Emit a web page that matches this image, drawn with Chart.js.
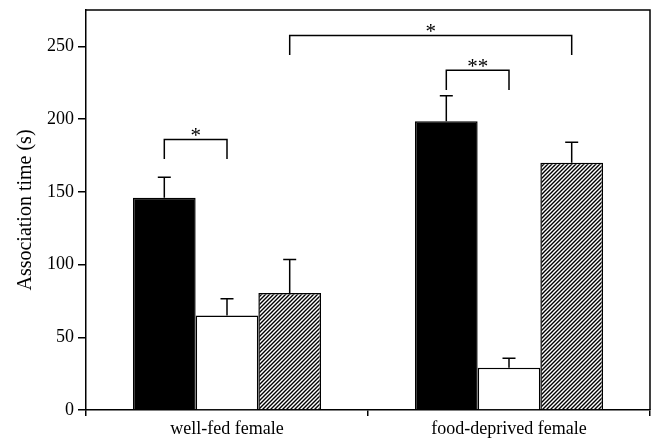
<!DOCTYPE html>
<html><head><meta charset="utf-8">
<script src="https://cdn.jsdelivr.net/npm/chart.js@4/dist/chart.umd.min.js"></script>
<style>html,body{margin:0;padding:0;background:#fff;}</style>
</head><body>
<canvas id="c" width="652" height="442"></canvas>
<script>
// ---- data ----
const categories = ['well-fed female', 'food-deprived female'];
const blackValues = [146, 198.5];
const blackErrors = [14, 17.5];
const whiteValues = [65, 29];
const whiteErrors = [11.5, 6.5];
const hatchValues = [80.5, 170];
const hatchErrors = [23, 14];
const yTicks = [0, 50, 100, 150, 200, 250];
const yMax = 275;
// significance brackets: [seriesIndex, categoryIndex] for each end
const bracketLeft = [[0, 0], [0, 1], [2, 0]];
const bracketRight = [[1, 0], [1, 1], [2, 1]];
const bracketTops = [186, 233.5, 257.5];
const bracketFeet = [172.5, 220, 244];
const bracketLabels = ['*', '**', '*'];

const FONT = 'Liberation Serif, Times New Roman, serif';

function hatchPattern() {
  const c = document.createElement('canvas');
  c.width = 4; c.height = 4;
  const g = c.getContext('2d');
  g.fillStyle = '#fff'; g.fillRect(0, 0, 4, 4);
  g.strokeStyle = '#000'; g.lineWidth = 1.4;
  g.beginPath();
  g.moveTo(-1, 5); g.lineTo(5, -1);
  g.moveTo(-1, 1); g.lineTo(1, -1);
  g.moveTo(3, 5); g.lineTo(5, 3);
  g.stroke();
  return g.createPattern(c, 'repeat');
}

const errorSets = [blackErrors, whiteErrors, hatchErrors];

const annot = {
  id: 'annot',
  afterDatasetsDraw(chart) {
    const ctx = chart.ctx, ys = chart.scales.y, a = chart.chartArea;
    ctx.save();
    ctx.strokeStyle = '#000';
    ctx.lineWidth = 1.5;
    // frame top and right
    ctx.beginPath();
    ctx.moveTo(a.left, a.top); ctx.lineTo(a.right, a.top); ctx.lineTo(a.right, a.bottom);
    ctx.stroke();
    // error bars
    errorSets.forEach((errs, i) => {
      const meta = chart.getDatasetMeta(i);
      meta.data.forEach((bar, j) => {
        const v = chart.data.datasets[i].data[j];
        const base = ys.getPixelForValue(v);
        const top = ys.getPixelForValue(v + errs[j]);
        ctx.beginPath();
        ctx.moveTo(bar.x, base); ctx.lineTo(bar.x, top);
        ctx.moveTo(bar.x - 6.5, top); ctx.lineTo(bar.x + 6.5, top);
        ctx.stroke();
      });
    });
    // brackets
    ctx.fillStyle = '#000';
    ctx.font = '21px ' + FONT;
    ctx.textAlign = 'center';
    ctx.textBaseline = 'alphabetic';
    bracketLabels.forEach((lab, k) => {
      const l = chart.getDatasetMeta(bracketLeft[k][0]).data[bracketLeft[k][1]].x;
      const r = chart.getDatasetMeta(bracketRight[k][0]).data[bracketRight[k][1]].x;
      const t = ys.getPixelForValue(bracketTops[k]);
      const f = ys.getPixelForValue(bracketFeet[k]);
      ctx.beginPath();
      ctx.moveTo(l, f); ctx.lineTo(l, t); ctx.lineTo(r, t); ctx.lineTo(r, f);
      ctx.stroke();
      ctx.fillText(lab, (l + r) / 2, t + 3);
    });
    ctx.restore();
  }
};

new Chart(document.getElementById('c'), {
  type: 'bar',
  data: {
    labels: categories,
    datasets: [
      { data: blackValues, backgroundColor: '#000', borderColor: '#000', borderWidth: 1.5 },
      { data: whiteValues, backgroundColor: '#fff', borderColor: '#000', borderWidth: 1.5 },
      { data: hatchValues, backgroundColor: hatchPattern(), borderColor: '#000', borderWidth: 1.5 }
    ]
  },
  options: {
    responsive: false,
    animation: false,
    devicePixelRatio: 1,
    categoryPercentage: 0.667,
    barPercentage: 1.0,
    layout: { padding: { top: 10, right: 2, left: 0, bottom: 0 } },
    plugins: { legend: { display: false }, tooltip: { enabled: false } },
    scales: {
      x: {
        grid: { display: true, drawOnChartArea: false, drawTicks: true, tickLength: 6, offset: true, color: '#000', lineWidth: 1.5 },
        border: { display: true, color: '#000', width: 1.5 },
        ticks: { color: '#000', font: { family: FONT, size: 18 }, padding: 2 },
        afterFit(s) { s.height = 32; s.paddingLeft = 0; s.paddingRight = 0; }
      },
      y: {
        min: 0, max: yMax,
        afterBuildTicks(s) { s.ticks = yTicks.map(v => ({ value: v })); },
        ticks: { color: '#000', font: { family: FONT, size: 18 }, padding: 4 },
        grid: { drawOnChartArea: false, drawTicks: true, tickLength: 8, color: '#000', lineWidth: 1.5 },
        border: { display: true, color: '#000', width: 1.5 },
        title: { display: true, text: 'Association time (s)', color: '#000', font: { family: FONT, size: 20 }, padding: { top: 14, bottom: 0 } },
        afterFit(s) { s.width = 86; s.paddingTop = 0; s.paddingBottom = 0; }
      }
    }
  },
  plugins: [annot]
});
</script>
</body></html>
